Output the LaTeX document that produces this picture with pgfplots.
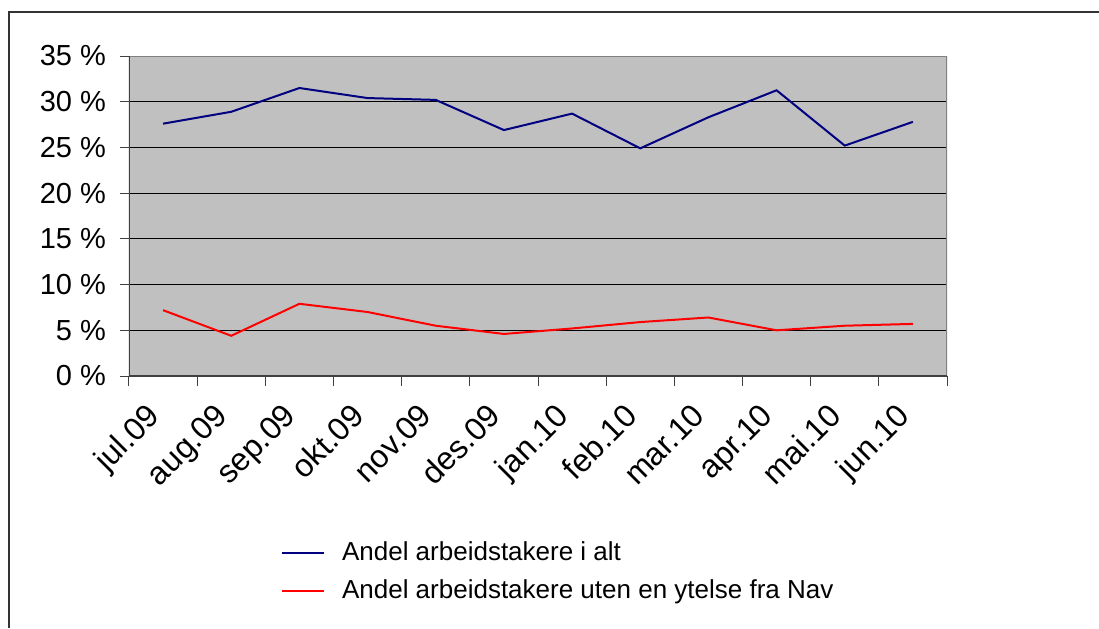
\documentclass[border=0pt]{standalone}
\usepackage{fontspec}
\setmainfont{Liberation Sans}
\usepackage{pgfplots}
\pgfplotsset{compat=1.18}
\definecolor{navyline}{RGB}{0,0,128}
\definecolor{plotgray}{RGB}{192,192,192}
\definecolor{bordergray}{RGB}{128,128,128}
\definecolor{axisdark}{RGB}{64,64,64}
\begin{document}
\begin{tikzpicture}[x=0.5pt,y=-0.5pt]
\useasboundingbox (0,0) rectangle (1099,628);
\fill[white] (0,0) rectangle (1099,628);
\draw[black!80, line width=1pt] (9,628) -- (9,12) -- (1099,12);
\begin{axis}[
  at={(64.5pt,-188pt)}, anchor=south west,
  scale only axis, width=409pt, height=160pt,
  xmin=-0.5, xmax=11.5, ymin=0, ymax=35,
  axis background/.style={fill=plotgray},
  axis line style={draw=none},
  xtick={0,...,11},
  xticklabels={jul.09,aug.09,sep.09,okt.09,nov.09,des.09,jan.10,feb.10,mar.10,apr.10,mai.10,jun.10},
  minor xtick={-0.5,0.5,...,11.5},
  ytick={0,5,...,35},
  yticklabels={0 \%,5 \%,10 \%,15 \%,20 \%,25 \%,30 \%,35 \%},
  tick align=outside, tick pos=left,
  major tick length=4.5pt, minor tick length=5pt,
  x tick style={draw=none},
  minor x tick style={draw=axisdark, line width=0.5pt},
  y tick style={draw=axisdark, line width=0.5pt},
  ymajorgrids, grid style={black, line width=0.5pt},
  /pgf/number format/assume math mode=true,
  yticklabel style={font=\fontsize{14.5}{16}\selectfont, xshift=-3.5pt},
  xticklabel style={font=\fontsize{16}{18}\selectfont, xshift=-9pt, yshift=-3.5pt, rotate=45, anchor=north east},
  legend style={at={(axis description cs:0.1859,-0.6125)}, anchor=west, draw=none, fill=none,
    inner sep=0pt, outer sep=0pt,
    font=\fontsize{13}{15}\selectfont, row sep=0pt,
    nodes={inner xsep=0pt, inner ysep=3pt, text height=10pt, text depth=3pt},
    /tikz/every odd column/.append style={column sep=8.5pt}},
  legend cell align=left,
  legend image code/.code={\draw[#1] (0pt,0pt) -- (21pt,0pt);},
]
\addplot[navyline, line width=1pt] coordinates {
(0,27.6) (1,28.9) (2,31.5) (3,30.4) (4,30.2) (5,26.9) (6,28.7) (7,24.9) (8,28.3) (9,31.25) (10,25.2) (11,27.8)};
\addlegendentry{Andel arbeidstakere i alt}
\addplot[red, line width=1pt] coordinates {
(0,7.2) (1,4.4) (2,7.9) (3,7.0) (4,5.5) (5,4.6) (6,5.2) (7,5.9) (8,6.4) (9,5.0) (10,5.5) (11,5.7)};
\addlegendentry{Andel arbeidstakere uten en ytelse fra Nav}
\draw[bordergray, line width=1pt] (rel axis cs:0,1) -- (rel axis cs:1,1) -- (rel axis cs:1,0);
\draw[axisdark, line width=1pt] (rel axis cs:0,1) -- (rel axis cs:0,0) -- (rel axis cs:1,0);
\end{axis}
\end{tikzpicture}
\end{document}
